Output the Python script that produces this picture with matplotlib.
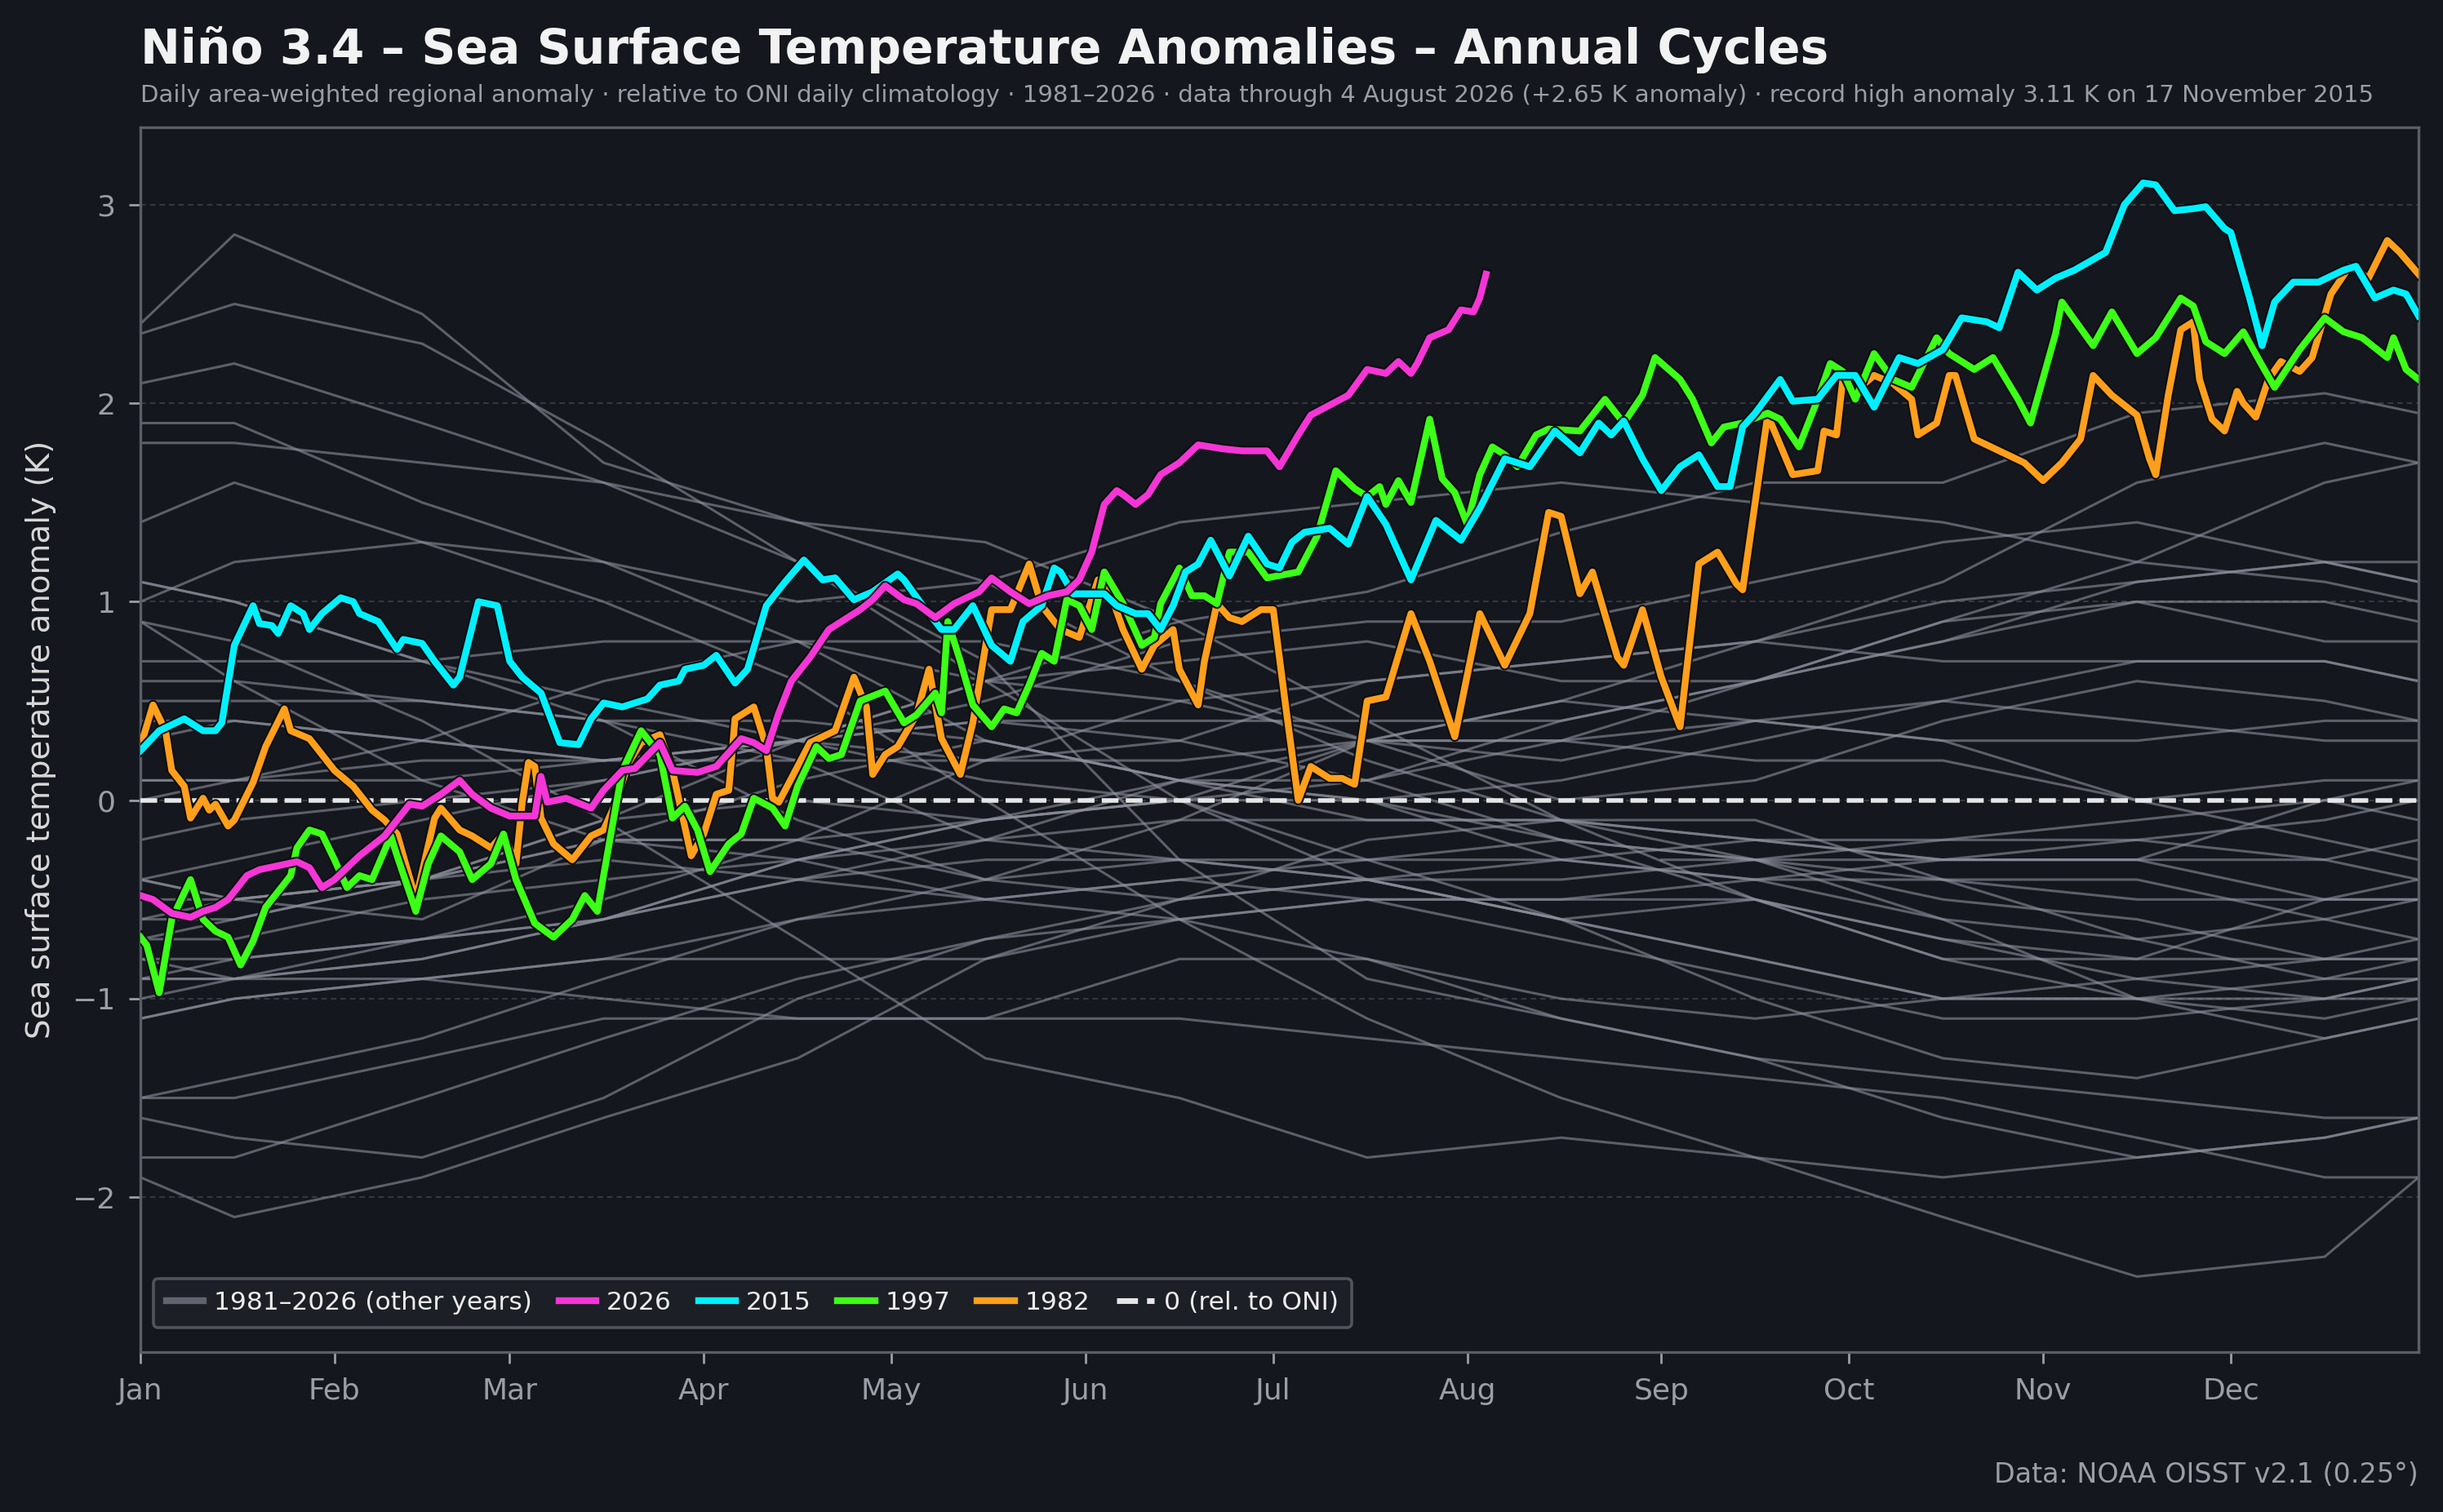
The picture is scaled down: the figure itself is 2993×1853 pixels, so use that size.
import matplotlib
matplotlib.use("Agg")
import matplotlib.pyplot as plt
from matplotlib.lines import Line2D
import matplotlib.patheffects as pe

# ---------------- data ----------------
month_labels = ["Jan", "Feb", "Mar", "Apr", "May", "Jun", "Jul", "Aug", "Sep", "Oct", "Nov", "Dec"]
month_start_days = [0, 31, 59, 90, 120, 151, 181, 212, 243, 273, 304, 334]

# highlighted years (day of year, 0 = 1 Jan; anomaly K)
days_2026 = [0,2,5,8,10,12,14,17,19,22,25,27,29,31,35,39,43,45,48,51,53,56,59,63,64,65,68,72,74,77,
             79,83,85,89,92,96,98,100,102,104,107,110,112,115,117,119,122,124,127,130,134,136,139,142,145,148,150,152,154,156,
             157,159,161,163,166,169,173,176,180,182,185,187,193,196,199,201,203,204,206,209,211,213,214,215]
vals_2026 = [-0.48,-0.5,-0.57,-0.59,-0.56,-0.54,-0.5,-0.38,-0.35,-0.33,-0.31,-0.34,-0.44,-0.4,-0.28,-0.18,-0.02,-0.03,0.03,0.1,
             0.03,-0.04,-0.08,-0.08,0.12,-0.01,0.01,-0.04,0.05,0.15,0.16,0.29,0.15,0.14,0.17,0.31,0.29,0.25,0.44,0.6,
             0.72,0.86,0.9,0.96,1.01,1.08,1.01,0.99,0.92,0.99,1.05,1.12,1.05,0.99,1.03,1.05,1.11,1.25,1.49,1.56,
             1.54,1.49,1.54,1.64,1.7,1.79,1.77,1.76,1.76,1.68,1.84,1.94,2.04,2.17,2.15,2.21,2.15,2.2,2.33,2.37,
             2.47,2.46,2.53,2.65]

days_2015 = [0,3,7,10,12,13,15,18,19,21,22,24,26,27,29,32,34,35,38,41,42,45,47,50,51,54,57,59,61,64,
             67,70,72,74,77,79,81,83,86,87,90,92,95,97,100,103,106,109,111,114,117,121,122,125,128,130,133,136,139,141,
             144,146,147,149,152,154,156,159,161,163,165,167,169,171,174,177,180,182,184,186,190,193,196,199,203,207,211,214,218,222,
             226,230,233,235,237,240,243,246,249,252,254,256,258,262,264,268,271,274,277,281,284,288,291,295,297,300,303,306,309,314,
             317,320,322,325,328,330,333,334,337,339,341,344,348,352,354,357,360,362,364]
vals_2015 = [0.25,0.35,0.41,0.35,0.35,0.39,0.78,0.98,0.89,0.88,0.84,0.98,0.94,0.86,0.94,1.02,1.0,0.94,0.9,0.76,
             0.81,0.79,0.7,0.58,0.62,1.0,0.98,0.7,0.62,0.54,0.29,0.28,0.41,0.49,0.47,0.49,0.51,0.58,0.6,0.66,
             0.68,0.73,0.59,0.66,0.98,1.1,1.21,1.11,1.12,1.01,1.05,1.14,1.11,0.98,0.86,0.86,0.98,0.78,0.7,0.9,
             0.98,1.17,1.15,1.04,1.04,1.04,0.98,0.94,0.94,0.86,0.98,1.15,1.19,1.31,1.13,1.33,1.19,1.17,1.3,1.35,
             1.37,1.29,1.53,1.39,1.11,1.41,1.31,1.47,1.72,1.68,1.86,1.75,1.9,1.84,1.91,1.72,1.56,1.68,1.74,1.58,
             1.58,1.88,1.95,2.12,2.01,2.02,2.14,2.14,1.98,2.23,2.2,2.27,2.43,2.41,2.38,2.66,2.57,2.63,2.67,2.76,
             3.0,3.11,3.1,2.97,2.98,2.99,2.88,2.86,2.53,2.29,2.51,2.61,2.61,2.67,2.69,2.53,2.57,2.55,2.44]

days_1997 = [0,1,3,5,8,10,12,14,16,18,20,22,24,25,27,29,31,33,35,37,40,41,44,46,48,51,53,56,58,60,
             63,66,69,71,73,75,77,80,83,85,87,89,91,94,96,98,101,103,105,108,110,112,115,119,122,124,127,128,129,131,
             133,136,138,140,142,144,146,148,150,152,154,157,160,162,163,166,168,170,172,174,177,180,185,188,191,194,196,198,199,201,
             203,206,208,210,212,214,216,218,220,223,225,230,234,237,240,242,246,248,251,253,256,260,262,265,268,270,272,274,277,280,
             283,287,289,293,296,300,302,306,307,312,315,319,322,326,328,330,333,336,339,341,345,349,352,355,359,360,362,364]
vals_1997 = [-0.69,-0.73,-0.97,-0.6,-0.4,-0.6,-0.66,-0.69,-0.83,-0.71,-0.54,-0.46,-0.38,-0.24,-0.15,-0.17,-0.3,-0.44,-0.38,-0.4,
             -0.18,-0.28,-0.56,-0.32,-0.18,-0.26,-0.4,-0.32,-0.17,-0.4,-0.62,-0.69,-0.6,-0.48,-0.56,-0.2,0.15,0.35,0.23,-0.09,
             -0.03,-0.15,-0.36,-0.22,-0.17,0.01,-0.04,-0.13,0.07,0.27,0.21,0.23,0.5,0.55,0.39,0.43,0.54,0.44,0.9,0.7,
             0.48,0.37,0.46,0.44,0.58,0.74,0.7,1.01,0.98,0.86,1.15,0.99,0.78,0.82,0.99,1.17,1.03,1.03,0.99,1.25,
             1.25,1.12,1.15,1.33,1.66,1.57,1.53,1.58,1.49,1.61,1.5,1.92,1.62,1.55,1.39,1.64,1.78,1.74,1.68,1.84,
             1.87,1.86,2.02,1.9,2.04,2.23,2.12,2.02,1.8,1.88,1.9,1.95,1.92,1.78,2.02,2.2,2.16,2.02,2.25,2.12,
             2.08,2.33,2.25,2.17,2.23,2.02,1.9,2.35,2.51,2.29,2.46,2.25,2.33,2.53,2.49,2.31,2.25,2.36,2.19,2.08,
             2.27,2.43,2.36,2.33,2.23,2.33,2.17,2.12]

days_1982 = [0,2,4,5,7,8,10,11,12,14,15,18,20,23,24,27,30,31,34,37,39,41,44,47,48,51,53,56,58,60,
             61,62,63,64,66,69,72,74,76,78,80,83,85,88,90,92,94,95,98,100,101,102,105,107,111,114,116,117,119,121,
             124,126,128,131,133,136,139,142,144,147,150,153,155,157,160,162,165,166,169,170,172,174,176,179,181,183,185,187,190,192,
             194,196,199,203,206,210,214,218,222,225,227,230,232,236,237,240,243,246,249,252,255,256,260,264,268,269,271,272,274,277,
             280,283,284,287,289,290,293,297,301,304,307,310,312,315,319,321,322,324,326,328,329,331,333,335,336,338,340,342,345,347,
             350,353,356,359,361,364]
vals_1982 = [0.27,0.48,0.35,0.15,0.07,-0.09,0.01,-0.05,-0.02,-0.13,-0.1,0.09,0.27,0.46,0.35,0.31,0.19,0.15,0.07,-0.05,
             -0.1,-0.17,-0.5,-0.09,-0.04,-0.15,-0.18,-0.24,-0.17,-0.32,-0.01,0.19,0.17,-0.09,-0.22,-0.3,-0.18,-0.15,-0.01,0.19,
             0.29,0.33,0.15,-0.28,-0.17,0.03,0.05,0.41,0.47,0.27,0.01,-0.01,0.17,0.29,0.35,0.62,0.47,0.13,0.23,0.27,
             0.43,0.66,0.31,0.13,0.39,0.96,0.96,1.19,0.98,0.86,0.82,1.11,1.04,0.86,0.66,0.78,0.86,0.66,0.48,0.7,
             0.99,0.92,0.9,0.96,0.96,0.47,0.0,0.17,0.11,0.11,0.08,0.5,0.52,0.94,0.7,0.32,0.94,0.68,0.94,1.45,
             1.43,1.04,1.15,0.72,0.68,0.96,0.62,0.37,1.19,1.25,1.09,1.06,1.94,1.64,1.66,1.86,1.84,2.12,2.06,2.14,
             2.1,2.02,1.84,1.9,2.14,2.14,1.82,1.76,1.7,1.61,1.7,1.82,2.14,2.04,1.94,1.72,1.64,2.04,2.37,2.41,
             2.12,1.92,1.86,2.06,2.0,1.93,2.12,2.21,2.16,2.23,2.55,2.69,2.63,2.82,2.76,2.65]

# other years: estimated values at mid-month knots (plus 1 Jan and 31 Dec)
other_days = [0, 15, 45, 74, 105, 135, 166, 196, 227, 258, 288, 319, 349, 364]
days_1981 = [243, 258, 288, 319, 349, 364]          # OISST record begins Sep 1981
g1981 = [-0.3, -0.3, -0.2, -0.1, 0.0, -0.1]
g1983 = [2.4, 2.85, 2.45, 1.7, 1.4, 1.3, 0.9, 0.4, -0.1, -0.5, -0.8, -1.0, -0.9, -0.8]
g1984 = [-0.6, -0.5, -0.4, -0.3, -0.4, -0.5, -0.4, -0.3, -0.2, -0.3, -0.6, -1.0, -1.2, -1.1]
g1985 = [-1.1, -1.0, -0.9, -0.8, -0.8, -0.8, -0.6, -0.5, -0.5, -0.4, -0.3, -0.3, -0.5, -0.5]
g1986 = [-0.5, -0.5, -0.4, -0.2, -0.2, -0.1, 0.0, 0.3, 0.5, 0.8, 1.0, 1.1, 1.2, 1.2]
g1987 = [1.0, 1.2, 1.3, 1.2, 1.0, 1.1, 1.4, 1.5, 1.6, 1.5, 1.4, 1.2, 1.1, 1.0]
g1988 = [0.9, 0.8, 0.4, -0.1, -0.7, -1.3, -1.5, -1.8, -1.7, -1.8, -2.1, -2.4, -2.3, -1.9]
g1989 = [-1.9, -2.1, -1.9, -1.6, -1.3, -0.8, -0.5, -0.4, -0.4, -0.3, -0.3, -0.2, -0.1, 0.0]
g1990 = [0.0, 0.1, 0.2, 0.2, 0.3, 0.2, 0.2, 0.3, 0.3, 0.4, 0.3, 0.3, 0.4, 0.4]
g1991 = [0.4, 0.4, 0.3, 0.2, 0.3, 0.6, 0.7, 0.8, 0.6, 0.6, 0.9, 1.2, 1.6, 1.7]
g1992 = [1.8, 1.8, 1.7, 1.6, 1.4, 1.1, 0.6, 0.2, -0.1, -0.2, -0.3, -0.3, 0.0, 0.1]
g1993 = [0.1, 0.1, 0.3, 0.6, 0.8, 0.8, 0.6, 0.3, 0.3, 0.2, 0.2, 0.0, 0.1, 0.1]
g1994 = [0.1, 0.1, 0.1, 0.2, 0.3, 0.4, 0.4, 0.4, 0.4, 0.6, 0.8, 1.1, 1.2, 1.1]
g1995 = [1.1, 1.0, 0.7, 0.5, 0.3, 0.1, 0.0, -0.3, -0.6, -0.8, -1.0, -1.0, -1.0, -0.9]
g1996 = [-0.8, -0.9, -0.8, -0.6, -0.4, -0.3, -0.3, -0.3, -0.3, -0.4, -0.4, -0.5, -0.5, -0.5]
g1998 = [2.1, 2.2, 1.9, 1.6, 1.2, 0.7, -0.3, -0.9, -1.1, -1.3, -1.4, -1.5, -1.6, -1.6]
g1999 = [-1.5, -1.5, -1.3, -1.1, -1.1, -1.1, -1.1, -1.2, -1.3, -1.4, -1.5, -1.7, -1.9, -1.9]
g2000 = [-1.8, -1.8, -1.5, -1.2, -0.9, -0.7, -0.6, -0.5, -0.5, -0.5, -0.7, -0.8, -0.8, -0.8]
g2001 = [-0.7, -0.7, -0.5, -0.4, -0.3, -0.2, -0.1, -0.1, -0.1, -0.2, -0.3, -0.3, -0.3, -0.2]
g2002 = [-0.2, -0.1, 0.0, 0.1, 0.3, 0.5, 0.8, 0.9, 0.9, 1.1, 1.3, 1.4, 1.2, 1.1]
g2003 = [1.1, 1.0, 0.7, 0.4, -0.1, -0.4, -0.1, 0.3, 0.2, 0.4, 0.5, 0.4, 0.3, 0.3]
g2004 = [0.3, 0.4, 0.3, 0.2, 0.2, 0.2, 0.3, 0.6, 0.7, 0.8, 0.7, 0.7, 0.7, 0.6]
g2005 = [0.6, 0.6, 0.5, 0.4, 0.4, 0.3, 0.1, -0.1, -0.1, -0.1, -0.4, -0.7, -0.9, -0.9]
g2006 = [-0.9, -0.9, -0.7, -0.6, -0.3, -0.1, 0.0, 0.1, 0.4, 0.6, 0.8, 1.0, 1.0, 0.9]
g2007 = [0.9, 0.6, 0.1, -0.2, -0.3, -0.5, -0.6, -0.8, -1.1, -1.3, -1.6, -1.8, -1.7, -1.6]
g2008 = [-1.6, -1.7, -1.8, -1.5, -1.0, -0.7, -0.5, -0.2, -0.1, -0.3, -0.5, -0.6, -0.8, -0.8]
g2009 = [-0.8, -0.8, -0.7, -0.5, -0.2, 0.2, 0.5, 0.6, 0.7, 0.8, 1.1, 1.6, 1.8, 1.7]
g2010 = [1.4, 1.6, 1.3, 1.0, 0.6, 0.0, -0.6, -1.1, -1.5, -1.8, -1.9, -1.8, -1.7, -1.6]
g2011 = [-1.5, -1.4, -1.2, -0.9, -0.6, -0.5, -0.4, -0.5, -0.7, -0.9, -1.1, -1.1, -1.0, -0.9]
g2012 = [-0.9, -0.8, -0.7, -0.6, -0.4, -0.2, 0.1, 0.3, 0.5, 0.4, 0.3, 0.0, -0.2, -0.3]
g2013 = [-0.4, -0.5, -0.4, -0.2, -0.2, -0.4, -0.5, -0.4, -0.3, -0.2, -0.2, -0.2, -0.3, -0.4]
g2014 = [-0.4, -0.5, -0.6, -0.2, 0.1, 0.3, 0.1, 0.0, 0.1, 0.3, 0.5, 0.7, 0.7, 0.6]
g2016 = [2.35, 2.5, 2.3, 1.8, 1.2, 0.6, 0.0, -0.4, -0.6, -0.5, -0.8, -0.8, -0.5, -0.4]
g2017 = [-0.4, -0.3, -0.1, 0.1, 0.3, 0.4, 0.3, 0.1, -0.2, -0.5, -0.7, -0.9, -1.0, -1.0]
g2018 = [-0.9, -0.9, -0.8, -0.6, -0.3, -0.1, 0.1, 0.1, 0.3, 0.6, 0.9, 1.0, 0.8, 0.8]
g2019 = [0.7, 0.7, 0.7, 0.8, 0.8, 0.6, 0.5, 0.3, 0.0, 0.1, 0.4, 0.6, 0.5, 0.4]
g2020 = [0.5, 0.5, 0.5, 0.4, 0.2, -0.2, -0.3, -0.4, -0.6, -1.0, -1.3, -1.4, -1.2, -1.1]
g2021 = [-1.1, -1.0, -0.9, -0.8, -0.6, -0.4, -0.3, -0.4, -0.6, -0.8, -1.0, -1.0, -1.1, -1.0]
g2022 = [-1.0, -0.9, -0.9, -1.0, -1.1, -1.1, -0.8, -0.8, -1.0, -1.1, -1.0, -0.9, -0.8, -0.7]
g2023 = [-0.7, -0.6, -0.4, -0.1, 0.3, 0.6, 0.9, 1.05, 1.35, 1.6, 1.6, 1.95, 2.05, 1.95]
g2024 = [1.9, 1.9, 1.5, 1.2, 0.8, 0.3, 0.1, 0.0, -0.2, -0.3, -0.4, -0.4, -0.6, -0.7]
g2025 = [-0.6, -0.6, -0.4, -0.1, 0.0, -0.1, 0.0, 0.0, -0.3, -0.4, -0.6, -0.7, -0.6, -0.5]

other_series = [
    (days_1981, g1981), (other_days, g1983), (other_days, g1984), (other_days, g1985), (other_days, g1986),
    (other_days, g1987), (other_days, g1988), (other_days, g1989), (other_days, g1990), (other_days, g1991),
    (other_days, g1992), (other_days, g1993), (other_days, g1994), (other_days, g1995), (other_days, g1996),
    (other_days, g1998), (other_days, g1999), (other_days, g2000), (other_days, g2001), (other_days, g2002),
    (other_days, g2003), (other_days, g2004), (other_days, g2005), (other_days, g2006), (other_days, g2007),
    (other_days, g2008), (other_days, g2009), (other_days, g2010), (other_days, g2011), (other_days, g2012),
    (other_days, g2013), (other_days, g2014), (other_days, g2016), (other_days, g2017), (other_days, g2018),
    (other_days, g2019), (other_days, g2020), (other_days, g2021), (other_days, g2022), (other_days, g2023),
    (other_days, g2024), (other_days, g2025),
]

highlight_years = ["1982", "1997", "2015", "2026"]
highlight_colors = {"2026": "#f535d6", "2015": "#00f0ff", "1997": "#3cff17", "1982": "#ff9f1c"}
highlight_data = {"2026": (days_2026, vals_2026), "2015": (days_2015, vals_2015),
                  "1997": (days_1997, vals_1997), "1982": (days_1982, vals_1982)}

title = "Niño 3.4 – Sea Surface Temperature Anomalies – Annual Cycles"
subtitle = ("Daily area-weighted regional anomaly · relative to ONI daily climatology · 1981–2026 · "
            "data through 4 August 2026 (+2.65 K anomaly) · record high anomaly 3.11 K on 17 November 2015")
source = "Data: NOAA OISST v2.1 (0.25°)"
ylabel = "Sea surface temperature anomaly (K)"

# ---------------- style ----------------
BG = "#14171d"
GRAY_LINE = "#8e929c"
TICK_COL = "#9a9ea6"
SPINE_COL = "#5a5e66"

fig = plt.figure(figsize=(2993 / 200, 1853 / 200), dpi=200, facecolor=BG)
ax = fig.add_axes([0.0575, 0.1058, 0.9325, 0.81], facecolor=BG)

for d, v in other_series:
    ax.plot(d, v, color=GRAY_LINE, lw=1.1, alpha=0.6, zorder=1, solid_joinstyle="round")

ax.axhline(0, color="#e6e6e6", lw=2.0, ls="--", zorder=3)

for yr in highlight_years:
    d, v = highlight_data[yr]
    ax.plot(d, v, color=highlight_colors[yr], lw=3.0, zorder=4, solid_joinstyle="round",
            path_effects=[pe.Stroke(linewidth=4.5, foreground="#0c0e12"), pe.Normal()])

ax.set_xlim(0, 364)
ax.set_ylim(-2.78, 3.39)
ax.set_xticks(month_start_days)
ax.set_xticklabels(month_labels)
ax.set_yticks([-2, -1, 0, 1, 2, 3])
ax.tick_params(axis="both", colors=TICK_COL, labelsize=13, length=5, width=1.0, pad=6)
ax.yaxis.grid(True, color="#3c4048", lw=0.6, ls=(0, (4, 3)), zorder=0)
ax.xaxis.grid(False)
ax.set_axisbelow(True)
for s in ax.spines.values():
    s.set_color(SPINE_COL)
    s.set_linewidth(1.2)

ax.set_ylabel(ylabel, color="#d8d8d8", fontsize=14)
ax.yaxis.set_label_coords(-0.037, 0.5)

handles = [Line2D([], [], color="#60646d", lw=3)]
labels = ["1981–2026 (other years)"]
for yr in ["2026", "2015", "1997", "1982"]:
    handles.append(Line2D([], [], color=highlight_colors[yr], lw=3))
    labels.append(yr)
handles.append(Line2D([], [], color="#e6e6e6", lw=2.5, ls="--"))
labels.append("0 (rel. to ONI)")
leg = ax.legend(handles, labels, loc="lower left", bbox_to_anchor=(0.0057, 0.02), borderaxespad=0,
                ncol=6, fontsize=11.3, frameon=True, facecolor="#1c1f26", edgecolor="#50545c",
                labelcolor="#ececec", handlelength=1.45, handletextpad=0.4, columnspacing=1.05,
                borderpad=0.5, fancybox=True, framealpha=1.0)
leg.get_frame().set_linewidth(1.3)
leg.set_zorder(10)

fig.text(0.0575, 1 - 78 / 1853, title, fontsize=21, fontweight="bold", color="#f2f2f2", va="baseline", ha="left")
fig.text(0.0575, 1 - 125 / 1853, subtitle, fontsize=10.5, color=TICK_COL, va="baseline", ha="left")
fig.text(0.99, 1 - 1817 / 1853, source, fontsize=12, color=TICK_COL, va="baseline", ha="right")

fig.savefig("out.png", dpi=200, facecolor=BG)
